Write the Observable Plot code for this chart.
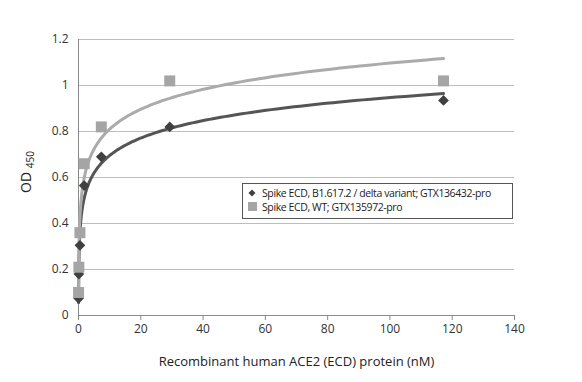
<!DOCTYPE html>
<html><head><meta charset="utf-8">
<script src="https://cdn.jsdelivr.net/npm/d3@7"></script>
<script src="https://cdn.jsdelivr.net/npm/@observablehq/plot@0.6"></script>
<style>
body{margin:0;background:#fff;font-family:"Open Sans",sans-serif;}
#wrap{position:relative;width:582px;height:382px;}
#legend{position:absolute;left:242px;top:183px;width:269px;height:32px;border:1px solid #555;background:#fff;font-size:10.5px;letter-spacing:-0.4px;color:#222;line-height:14px;padding-top:2px;box-sizing:content-box;}
#legend div{display:flex;align-items:center;white-space:nowrap;}
#legend span.m{display:inline-block;width:12px;text-align:center;margin-left:3px;margin-right:4px;}
</style></head>
<body><div id="wrap"></div>
<script>
const conc = [117.2, 29.3, 7.325, 1.831, 0.458, 0.1144, 0.0286];
const deltaOD = [0.935, 0.82, 0.69, 0.565, 0.305, 0.18, 0.075];
const wtOD = [1.02, 1.02, 0.82, 0.66, 0.36, 0.21, 0.10];
const seriesNames = ["Spike ECD, B1.617.2 / delta variant; GTX136432-pro", "Spike ECD, WT; GTX135972-pro"];
const xTicks = [0, 20, 40, 60, 80, 100, 120, 140];
const yTicks = [0, 0.2, 0.4, 0.6, 0.8, 1, 1.2];

const delta = conc.map((x, i) => ({x, y: deltaOD[i]}));
const wt = conc.map((x, i) => ({x, y: wtOD[i]}));

// logarithmic least-squares trendline (as in the spreadsheet)
function logFit(pts) {
  const lx = pts.map(p => Math.log(p.x));
  const mx = d3.mean(lx), my = d3.mean(pts, p => p.y);
  let sxy = 0, sxx = 0;
  pts.forEach((p, i) => { sxy += (lx[i] - mx) * (p.y - my); sxx += (lx[i] - mx) ** 2; });
  const a = sxy / sxx, b = my - a * mx;
  const [x0, x1] = d3.extent(pts, p => p.x);
  const out = [];
  for (let k = 0; k <= 300; k++) {
    const x = Math.exp(Math.log(x0) + (Math.log(x1) - Math.log(x0)) * k / 300);
    out.push({x, y: a * Math.log(x) + b});
  }
  return out;
}
const deltaFit = logFit(delta), wtFit = logFit(wt);

const plot = Plot.plot({
  width: 582, height: 382,
  marginLeft: 78, marginRight: 68, marginTop: 39, marginBottom: 67,
  style: {fontFamily: "Open Sans, sans-serif", fontSize: "12px", color: "#333", background: "#fff"},
  x: {domain: [0, 140], ticks: xTicks, tickSize: 5, tickPadding: 5, label: null},
  y: {domain: [0, 1.2], ticks: yTicks, tickSize: 0, tickPadding: 10, tickFormat: d => String(d), label: null},
  marks: [
    Plot.gridY(yTicks, {stroke: "#bdbdbd", strokeOpacity: 1}),
    Plot.ruleX([0], {stroke: "#8a8a8a"}),
    Plot.ruleY([0], {stroke: "#8a8a8a"}),
    Plot.axisX({ticks: xTicks, tickSize: 5, stroke: "#8a8a8a", fill: "#333", label: null}),
    Plot.line(deltaFit, {x: "x", y: "y", stroke: "#555555", strokeWidth: 3, curve: "linear"}),
    Plot.line(wtFit, {x: "x", y: "y", stroke: "#ababab", strokeWidth: 3, curve: "linear"}),
    Plot.dot(delta, {x: "x", y: "y", symbol: "square", r: 4.3, rotate: 45, fill: "#404040", stroke: "none"}),
    Plot.dot(wt, {x: "x", y: "y", symbol: "square", r: 6.2, fill: "#a5a5a5", stroke: "none"}),
    Plot.text(["Recombinant human ACE2 (ECD) protein (nM)"], {frameAnchor: "bottom", dy: 50, fontSize: 13, fill: "#222"})
  ]
});
const svg = d3.select(plot);
const yl = svg.append("text").attr("transform", "translate(31,172) rotate(-90)")
  .attr("text-anchor", "middle").attr("fill", "#222").style("font-size", "14px");
yl.append("tspan").text("OD ");
yl.append("tspan").attr("dy", 3).style("font-size", "10px").text("450");

const wrap = document.getElementById("wrap");
wrap.appendChild(plot);
const leg = document.createElement("div");
leg.id = "legend";
leg.innerHTML = `<div><span class="m"><svg width="8" height="8"><rect x="1.5" y="1.5" width="5" height="5" fill="#404040" transform="rotate(45 4 4)"/></svg></span>${seriesNames[0]}</div>
<div><span class="m"><svg width="9" height="9"><rect x="0" y="0" width="9" height="9" fill="#a5a5a5"/></svg></span>${seriesNames[1]}</div>`;
wrap.appendChild(leg);
</script></body></html>
